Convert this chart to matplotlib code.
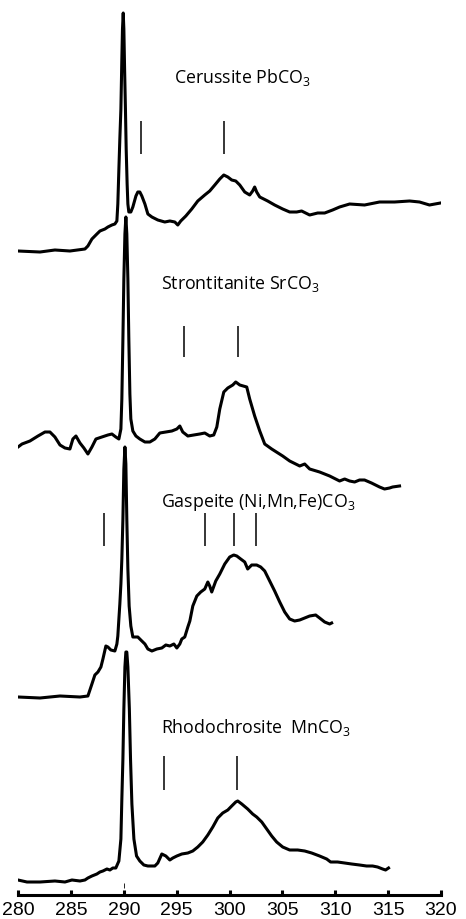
import matplotlib
matplotlib.use("Agg")
import matplotlib.pyplot as plt

# photon energy (eV) and stacked intensity (arb. units, offsets included)
cer_e = [280.0, 282.08, 283.49, 284.91, 286.33, 286.61, 286.99, 287.46, 287.75, 288.22,
         288.50, 288.88, 289.16, 289.35, 289.44, 289.54, 289.63, 289.73, 289.82, 289.88,
         289.95, 290.01, 290.08, 290.16, 290.23, 290.32, 290.39, 290.48, 290.67, 290.86,
         291.15, 291.33, 291.52, 291.71, 292.00, 292.28, 292.66, 293.22, 293.88, 294.36,
         294.83, 295.11, 295.39, 295.87, 296.43, 297.00, 297.66, 298.13, 298.61, 299.08,
         299.46, 299.84, 300.21, 300.59, 300.97, 301.44, 301.91, 302.19, 302.38, 302.57,
         302.86, 303.61, 304.27, 305.03, 305.69, 306.35, 306.82, 307.58, 308.34, 309.00,
         309.75, 310.41, 311.36, 312.77, 314.19, 315.61, 317.03, 317.97, 318.91, 319.95]
cer_i = [6.44, 6.43, 6.45, 6.44, 6.46, 6.49, 6.56, 6.61, 6.64, 6.66,
         6.68, 6.70, 6.71, 6.74, 6.91, 7.26, 7.56, 7.86, 8.36, 8.66,
         8.82, 8.66, 8.26, 7.86, 7.46, 7.11, 6.91, 6.83, 6.83, 6.88,
         6.99, 7.03, 7.03, 6.99, 6.91, 6.81, 6.78, 6.75, 6.73, 6.74,
         6.73, 6.70, 6.74, 6.79, 6.86, 6.94, 7.00, 7.04, 7.10, 7.16,
         7.20, 7.18, 7.15, 7.14, 7.10, 7.03, 7.00, 7.04, 7.08, 7.03,
         6.98, 6.94, 6.90, 6.86, 6.83, 6.83, 6.84, 6.80, 6.82, 6.82,
         6.85, 6.88, 6.91, 6.90, 6.93, 6.93, 6.94, 6.93, 6.90, 6.92]

str_e = [280.0, 280.38, 281.13, 281.89, 282.55, 283.02, 283.49, 283.97, 284.44, 284.91,
         285.19, 285.48, 285.86, 286.23, 286.61, 286.99, 287.37, 287.93, 288.50, 288.88,
         289.25, 289.54, 289.73, 289.82, 289.92, 290.01, 290.11, 290.20, 290.29, 290.39,
         290.48, 290.58, 290.67, 290.86, 291.15, 291.52, 292.00, 292.47, 292.94, 293.41,
         293.98, 294.55, 295.02, 295.30, 295.58, 296.06, 296.62, 297.19, 297.66, 298.13,
         298.51, 298.80, 299.08, 299.46, 299.84, 300.31, 300.59, 300.97, 301.63, 301.91,
         302.38, 302.86, 303.33, 303.99, 305.03, 305.69, 306.64, 307.11, 307.58, 308.52,
         309.47, 310.41, 310.89, 311.36, 311.83, 312.30, 312.77, 313.43, 314.19, 314.66,
         315.14, 315.42, 316.08]
str_i = [4.48, 4.51, 4.54, 4.59, 4.63, 4.63, 4.58, 4.50, 4.47, 4.46,
         4.56, 4.59, 4.52, 4.47, 4.41, 4.48, 4.56, 4.58, 4.60, 4.61,
         4.58, 4.56, 4.66, 4.96, 5.56, 6.16, 6.61, 6.78, 6.61, 6.16,
         5.56, 5.01, 4.76, 4.64, 4.59, 4.56, 4.53, 4.53, 4.56, 4.62,
         4.63, 4.64, 4.66, 4.69, 4.63, 4.59, 4.60, 4.61, 4.62, 4.59,
         4.60, 4.68, 4.86, 5.03, 5.07, 5.10, 5.13, 5.10, 5.08, 4.96,
         4.79, 4.64, 4.51, 4.46, 4.39, 4.34, 4.29, 4.31, 4.26, 4.23,
         4.19, 4.14, 4.16, 4.14, 4.13, 4.15, 4.15, 4.12, 4.08, 4.06,
         4.07, 4.08, 4.09]

gas_e = [280.0, 282.08, 283.97, 285.86, 286.61, 286.99, 287.27, 287.56, 287.84, 288.03,
         288.31, 288.50, 288.78, 289.16, 289.35, 289.44, 289.54, 289.63, 289.73, 289.82,
         289.92, 290.01, 290.11, 290.20, 290.29, 290.39, 290.51, 290.67, 290.86, 291.33,
         291.71, 292.00, 292.28, 292.66, 293.13, 293.60, 293.98, 294.36, 294.74, 295.02,
         295.30, 295.49, 295.77, 296.06, 296.25, 296.53, 296.91, 297.28, 297.66, 297.95,
         298.13, 298.32, 298.70, 299.08, 299.55, 300.02, 300.40, 300.69, 301.06, 301.44,
         301.72, 302.10, 302.57, 302.95, 303.33, 303.80, 304.27, 304.75, 305.22, 305.69,
         306.16, 306.64, 307.11, 307.58, 308.15, 308.52, 309.00, 309.47, 309.66]
gas_i = [1.98, 1.97, 1.99, 1.98, 1.99, 2.11, 2.20, 2.23, 2.28, 2.36,
         2.49, 2.48, 2.45, 2.44, 2.51, 2.59, 2.76, 2.91, 3.11, 3.36,
         3.76, 4.26, 4.48, 4.31, 3.76, 3.26, 2.89, 2.69, 2.58, 2.58,
         2.54, 2.51, 2.46, 2.44, 2.46, 2.47, 2.50, 2.49, 2.51, 2.47,
         2.51, 2.56, 2.58, 2.68, 2.74, 2.89, 2.99, 3.03, 3.06, 3.13,
         3.09, 3.03, 3.14, 3.21, 3.31, 3.38, 3.40, 3.39, 3.36, 3.33,
         3.26, 3.30, 3.30, 3.28, 3.24, 3.14, 3.04, 2.93, 2.83, 2.76,
         2.74, 2.75, 2.77, 2.79, 2.80, 2.77, 2.73, 2.71, 2.72]

rho_e = [280.0, 280.85, 282.08, 283.49, 284.44, 285.10, 285.86, 286.33, 286.61, 286.99,
         287.46, 287.75, 288.03, 288.41, 288.69, 288.97, 289.25, 289.54, 289.73, 289.82,
         289.92, 290.01, 290.11, 290.20, 290.29, 290.39, 290.53, 290.64, 290.77, 290.96,
         291.21, 291.52, 291.90, 292.28, 292.94, 293.22, 293.60, 293.98, 294.36, 294.64,
         295.02, 295.49, 296.06, 296.53, 297.00, 297.47, 297.95, 298.42, 298.89, 299.36,
         299.84, 300.21, 300.59, 300.78, 301.16, 301.72, 302.19, 302.57, 303.05, 303.52,
         303.99, 304.46, 305.03, 305.69, 306.45, 307.11, 307.77, 308.52, 309.19, 309.56,
         310.22, 310.89, 311.55, 312.30, 312.96, 313.53, 314.00, 314.48, 314.76, 315.04]
rho_i = [0.15, 0.13, 0.13, 0.14, 0.13, 0.15, 0.14, 0.15, 0.17, 0.19,
         0.21, 0.23, 0.24, 0.26, 0.25, 0.27, 0.27, 0.34, 0.56, 0.96,
         1.36, 1.86, 2.28, 2.43, 2.43, 2.28, 1.86, 1.36, 0.91, 0.56,
         0.39, 0.34, 0.30, 0.29, 0.29, 0.32, 0.41, 0.39, 0.35, 0.37,
         0.39, 0.41, 0.42, 0.44, 0.48, 0.53, 0.60, 0.68, 0.77, 0.82,
         0.85, 0.89, 0.93, 0.94, 0.91, 0.86, 0.81, 0.78, 0.73, 0.66,
         0.59, 0.53, 0.48, 0.45, 0.45, 0.44, 0.42, 0.39, 0.36, 0.33,
         0.33, 0.32, 0.31, 0.30, 0.29, 0.29, 0.28, 0.26, 0.25, 0.27]

# feature markers: energies and vertical extent
cer_marks = [291.62, 299.46]
str_marks = [295.68, 300.78]
gas_marks = [288.15, 297.66, 300.40, 302.48]
rho_marks = [293.79, 300.69]
mark_ranges = [(7.41, 7.74), (5.38, 5.69), (3.49, 3.82), (1.05, 1.39)]

labels = ["Cerussite PbCO$_3$", "Strontitanite SrCO$_3$",
          "Gaspeite (Ni,Mn,Fe)CO$_3$", "Rhodochrosite  MnCO$_3$"]
label_x = [294.73, 293.51, 293.51, 293.51]
label_y = [8.13, 6.07, 3.89, 1.63]

plt.rcParams['mathtext.fontset'] = 'custom'
plt.rcParams['mathtext.rm'] = 'Open Sans'
plt.rcParams['mathtext.it'] = 'Open Sans'

fig = plt.figure(figsize=(4.66, 9.2), dpi=100)
ax = fig.add_axes([18 / 466, 24 / 920, 423 / 466, 896 / 920])

spectra = [(cer_e, cer_i), (str_e, str_i), (gas_e, gas_i), (rho_e, rho_i)]
for e, i in spectra:
    ax.plot(e, i, color='black', lw=2.2, solid_joinstyle='round')

for marks, (lo, hi) in zip([cer_marks, str_marks, gas_marks, rho_marks], mark_ranges):
    ax.vlines(marks, lo, hi, color='black', lw=1.1)

ax.vlines([290.0], 0.07, 0.12, color='black', lw=0.6)

for txt, x, y in zip(labels, label_x, label_y):
    ax.text(x, y, txt, fontsize=12.8, family='Open Sans', va='baseline', ha='left')

ax.set_xlim(280, 320)
ax.set_ylim(0, 8.96)
for s in ['top', 'left', 'right']:
    ax.spines[s].set_visible(False)
ax.spines['bottom'].set_linewidth(2.2)
ax.set_yticks([])
ax.set_xticks(range(280, 321, 5))
ax.tick_params(axis='x', direction='in', length=3.5, width=2.2, pad=4.5,
               labelsize=14)
for lab in ax.get_xticklabels():
    lab.set_family('Liberation Sans')
ax.patch.set_alpha(0)

fig.savefig('out.png', dpi=100)
